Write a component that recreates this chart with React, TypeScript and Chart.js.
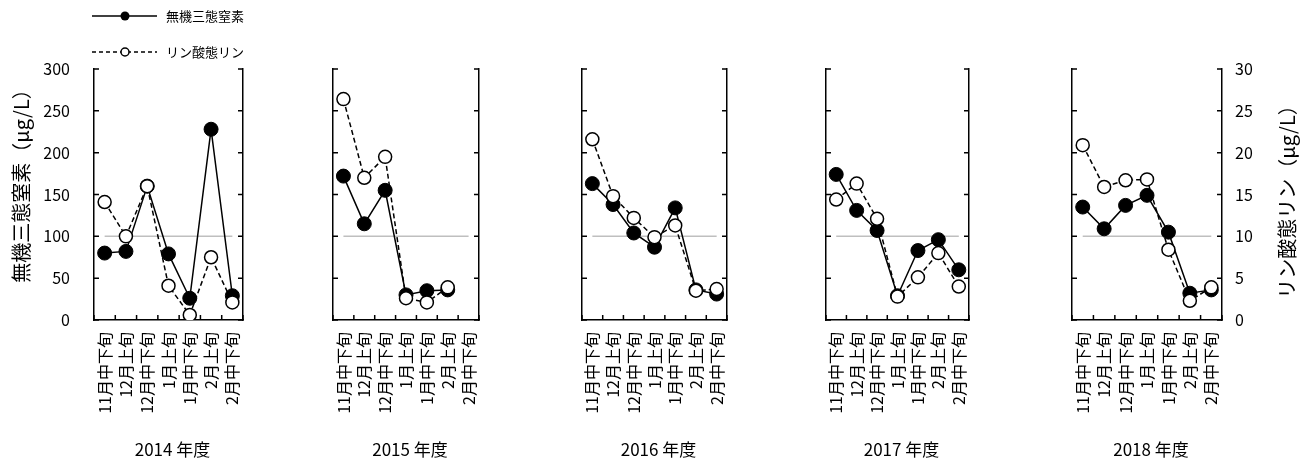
import React, { useEffect, useRef } from 'react';
import { Chart, registerables } from 'chart.js';

Chart.register(...registerables);

// ---- data ----
const categories = ['11月中下旬', '12月上旬', '12月中下旬', '1月上旬', '1月中下旬', '2月上旬', '2月中下旬'];
const yearLabels = ['2014 年度', '2015 年度', '2016 年度', '2017 年度', '2018 年度'];

const nitrogen2014 = [80, 82, 160, 79, 26, 228, 29];
const nitrogen2015 = [172, 115, 155, 30, 35, 36, null];
const nitrogen2016 = [163, 138, 104, 87, 134, 36, 31];
const nitrogen2017 = [174, 131, 107, 29, 83, 96, 60];
const nitrogen2018 = [135, 109, 137, 149, 105, 32, 36];

const phosphorus2014 = [14.1, 10.0, 16.0, 4.1, 0.6, 7.5, 2.1];
const phosphorus2015 = [26.4, 17.0, 19.5, 2.6, 2.1, 3.9, null];
const phosphorus2016 = [21.6, 14.8, 12.2, 9.9, 11.3, 3.5, 3.7];
const phosphorus2017 = [14.4, 16.3, 12.1, 2.8, 5.1, 8.0, 4.0];
const phosphorus2018 = [20.9, 15.9, 16.7, 16.8, 8.4, 2.3, 3.9];

const nitrogenSeries = [nitrogen2014, nitrogen2015, nitrogen2016, nitrogen2017, nitrogen2018];
const phosphorusSeries = [phosphorus2014, phosphorus2015, phosphorus2016, phosphorus2017, phosphorus2018];

const referenceLevel = 100;
const nitrogenAxis = { min: 0, max: 300, step: 50 };
const phosphorusAxis = { min: 0, max: 30, step: 5 };

const legendLabels = ['無機三態窒素', 'リン酸態リン'];
const leftTitle = '無機三態窒素（μg/L）';
const rightTitle = 'リン酸態リン（μg/L）';

// ---- layout / style ----
const FONT = "'Noto Sans CJK JP', 'Noto Sans', sans-serif";
const W = 1307;
const H = 464;
const PLOT_TOP = 69;
const PLOT_BOTTOM = 320;
const AXIS_LABEL_W = 60;
const panels = [
  { left: 94, right: 243 },
  { left: 333, right: 479 },
  { left: 582, right: 727 },
  { left: 826, right: 969 },
  { left: 1072, right: 1222 },
];

function Panel({ index }: { index: number }) {
  const ref = useRef<HTMLCanvasElement>(null);

  useEffect(() => {
    if (!ref.current) return;
    const p = panels[index];
    const first = index === 0;
    const last = index === panels.length - 1;
    const leftW = first ? AXIS_LABEL_W : 0;
    const rightW = last ? AXIS_LABEL_W : 0;

    const decor = {
      id: 'decor' + index,
      afterDraw(chart: any) {
        const { ctx, chartArea: a, scales } = chart;
        ctx.save();
        ctx.strokeStyle = '#000';
        ctx.lineWidth = 1.5;
        const tick = 5;
        ctx.beginPath();
        scales.y.ticks.forEach((t: any) => {
          const y = scales.y.getPixelForValue(t.value);
          ctx.moveTo(a.left, y);
          ctx.lineTo(a.left + tick, y);
        });
        scales.y2.ticks.forEach((t: any) => {
          const y = scales.y2.getPixelForValue(t.value);
          ctx.moveTo(a.right, y);
          ctx.lineTo(a.right - tick, y);
        });
        const n = categories.length;
        for (let i = 0; i <= n; i++) {
          const x = a.left + ((a.right - a.left) * i) / n;
          ctx.moveTo(x, a.bottom);
          ctx.lineTo(x, a.bottom - tick);
        }
        ctx.stroke();

        ctx.fillStyle = '#000';
        ctx.font = `17px ${FONT}`;
        ctx.textAlign = 'center';
        ctx.textBaseline = 'middle';
        ctx.fillText(yearLabels[index], (a.left + a.right) / 2 + 4, 450);

        if (first) {
          // left axis title
          ctx.save();
          ctx.translate(21, 181);
          ctx.rotate(-Math.PI / 2);
          ctx.font = `20px ${FONT}`;
          ctx.textAlign = 'center';
          ctx.textBaseline = 'middle';
          ctx.fillText(leftTitle, 0, 0);
          ctx.restore();

          // legend
          ctx.lineWidth = 1.5;
          ctx.setLineDash([]);
          ctx.beginPath();
          ctx.moveTo(92, 16);
          ctx.lineTo(157, 16);
          ctx.stroke();
          ctx.beginPath();
          ctx.arc(125, 16, 4.5, 0, Math.PI * 2);
          ctx.fillStyle = '#000';
          ctx.fill();

          ctx.setLineDash([4, 3]);
          ctx.beginPath();
          ctx.moveTo(92, 52);
          ctx.lineTo(157, 52);
          ctx.stroke();
          ctx.setLineDash([]);
          ctx.beginPath();
          ctx.arc(125, 52, 4, 0, Math.PI * 2);
          ctx.fillStyle = '#fff';
          ctx.fill();
          ctx.stroke();

          ctx.fillStyle = '#000';
          ctx.font = `13px ${FONT}`;
          ctx.textAlign = 'left';
          ctx.textBaseline = 'middle';
          ctx.fillText(legendLabels[0], 166, 16);
          ctx.fillText(legendLabels[1], 166, 52);
        }
        if (last) {
          ctx.save();
          ctx.translate(1287, 197);
          ctx.rotate(-Math.PI / 2);
          ctx.font = `20px ${FONT}`;
          ctx.textAlign = 'center';
          ctx.textBaseline = 'middle';
          ctx.fillStyle = '#000';
          ctx.fillText(rightTitle, 0, 0);
          ctx.restore();
        }
        ctx.restore();
      },
    };

    const border = { display: true, color: '#000', width: 1.5 };

    const chart = new Chart(ref.current, {
      type: 'line',
      data: {
        labels: categories,
        datasets: [
          {
            label: legendLabels[1],
            data: phosphorusSeries[index],
            yAxisID: 'y2',
            order: 0,
            borderColor: '#000',
            borderWidth: 1.5,
            borderDash: [5, 3],
            backgroundColor: '#fff',
            pointBackgroundColor: '#fff',
            pointBorderColor: '#000',
            pointBorderWidth: 1.5,
            pointRadius: 6.5,
            tension: 0,
          },
          {
            label: legendLabels[0],
            data: nitrogenSeries[index],
            yAxisID: 'y',
            order: 1,
            borderColor: '#000',
            borderWidth: 1.5,
            backgroundColor: '#000',
            pointBackgroundColor: '#000',
            pointBorderColor: '#000',
            pointBorderWidth: 1,
            pointRadius: 7,
            tension: 0,
          },
          {
            label: 'ref',
            data: categories.map(() => referenceLevel),
            yAxisID: 'y',
            order: 2,
            borderColor: '#bfbfbf',
            borderWidth: 1.5,
            pointRadius: 0,
            tension: 0,
          },
        ],
      },
      options: {
        responsive: false,
        animation: false,
        events: [],
        layout: {
          padding: { left: p.left - leftW, right: W - p.right - rightW, top: PLOT_TOP, bottom: 0 },
        },
        plugins: { legend: { display: false }, tooltip: { enabled: false } },
        scales: {
          x: {
            type: 'category',
            offset: true,
            grid: { display: false, drawTicks: false },
            border,
            ticks: {
              autoSkip: false,
              minRotation: 90,
              maxRotation: 90,
              padding: 12,
              color: '#000',
              font: { family: FONT, size: 16 },
            },
            afterFit: (s: any) => {
              s.height = H - PLOT_BOTTOM;
            },
          },
          y: {
            position: 'left',
            min: nitrogenAxis.min,
            max: nitrogenAxis.max,
            grid: { display: false, drawTicks: false },
            border,
            ticks: {
              stepSize: nitrogenAxis.step,
              display: first,
              padding: 24,
              color: '#000',
              font: { family: FONT, size: 16 },
            },
            afterFit: (s: any) => {
              s.width = leftW;
            },
          },
          y2: {
            position: 'right',
            min: phosphorusAxis.min,
            max: phosphorusAxis.max,
            grid: { display: false, drawTicks: false },
            border,
            ticks: {
              stepSize: phosphorusAxis.step,
              display: last,
              padding: 13,
              color: '#000',
              font: { family: FONT, size: 16 },
            },
            afterFit: (s: any) => {
              s.width = rightW;
            },
          },
        },
      } as any,
      plugins: [decor],
    });
    return () => chart.destroy();
  }, [index]);

  return (
    <canvas
      ref={ref}
      width={W}
      height={H}
      style={{ position: 'absolute', left: 0, top: 0, width: W, height: H }}
    />
  );
}

export default function App() {
  return (
    <div style={{ position: 'absolute', left: 0, top: 0, width: W, height: H, background: '#fff' }}>
      {panels.map((_, i) => (
        <Panel key={i} index={i} />
      ))}
    </div>
  );
}
